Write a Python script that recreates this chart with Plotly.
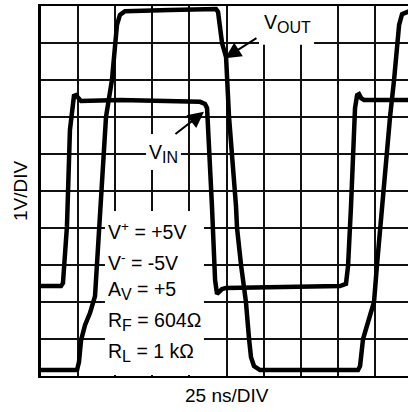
import plotly.graph_objects as go

# Scope capture: 25 ns/DIV horizontally, 1 V/DIV vertically
t_in_ns = [0, 13.5, 14.8, 16.2, 17.5, 19.5, 20.9, 22.2, 23.6, 24.9, 27.0, 53.2, 80.2,
           107.2, 110.5, 111.9, 115.2, 117.3, 118.6, 120.0, 122.0, 124.7, 161.1, 201.5,
           205.5, 206.9, 208.9, 210.3, 211.6, 213.0, 214.3, 215.7, 217.7, 250.0]
v_in = [-2.57, -2.57, -2.49, -1.86, -0.95, 1.65, 2.24, 2.57, 2.59, 2.51, 2.43, 2.46, 2.43,
        2.41, 2.35, 2.24, -0.41, -2.41, -2.78, -2.73, -2.65, -2.62, -2.59, -2.57,
        -2.51, -2.03, -0.41, 1.38, 2.24, 2.59, 2.62, 2.51, 2.46, 2.46]

t_out_ns = [0, 24.3, 25.6, 27.0, 29.7, 33.0, 36.4, 37.7, 39.8, 43.8, 47.8, 49.9, 51.2,
            53.2, 56.6, 86.9, 117.9, 119.3, 122.0, 124.7, 126.7, 131.4, 132.1, 134.8,
            138.1, 140.2, 141.5, 143.5, 147.6, 213.6, 215.0, 217.0, 219.7, 224.4, 226.4,
            228.5, 229.8, 235.2, 237.9, 239.9, 241.3, 243.3, 250.0]
v_out = [-4.84, -4.84, -4.62, -4.03, -3.62, -3.30, -2.84, -2.00, -0.41, 2.00, 3.00, 4.00, 4.49,
         4.76, 4.86, 4.89, 4.92, 4.84, 4.00, 3.62, 2.00, -0.41, -1.00, -2.00,
         -3.00, -4.00, -4.49, -4.73, -4.84, -4.84, -4.73, -4.00, -3.65, -3.00, -2.00,
         -1.00, -0.41, 2.00, 3.00, 4.00, 4.49, 4.78, 4.89]

SUB = "<sub><span style='font-size:16px'>{}</span></sub>"
conditions = ["V<sup>+</sup> = +5V", "V<sup>-</sup> = -5V", "A" + SUB.format("V") + " = +5",
              "R" + SUB.format("F") + " = 604Ω", "R" + SUB.format("L") + " = 1 kΩ"]
out_label = "V" + SUB.format("OUT")
in_label = "V" + SUB.format("IN")
x_title = "25 ns/DIV"
y_title = "1V/DIV"

FONT = "Liberation Sans, Arial, Helvetica, sans-serif"
INK = "black"
LABEL_SIZE = 19.5

fig = go.Figure()
fig.add_trace(go.Scatter(x=t_in_ns, y=v_in, mode="lines", name="V_IN",
                         line=dict(color=INK, width=4.5), hoverinfo="skip"))
fig.add_trace(go.Scatter(x=t_out_ns, y=v_out, mode="lines", name="V_OUT",
                         line=dict(color=INK, width=4.5), hoverinfo="skip"))

# white label boxes that knock out the graticule (drawn under the traces)
boxes = [(146.9, 184.0, 3.95, 5.0), (70.8, 94.3, 0.57, 1.54), (43.1, 109.8, -4.97, -0.54)]
for x0, x1, y0, y1 in boxes:
    fig.add_shape(type="rect", xref="x", yref="y", x0=x0, x1=x1, y0=y0, y1=y1,
                  fillcolor="white", line=dict(width=0), layer="between")

annotations = []
# condition block
cond_y = [-1.09, -1.91, -2.69, -3.53, -4.36]
for txt, yy in zip(conditions, cond_y):
    annotations.append(dict(x=44.0, y=yy, xref="x", yref="y", text=txt, showarrow=False,
                            xanchor="left", yanchor="middle",
                            font=dict(family=FONT, size=LABEL_SIZE, color=INK)))
# trace labels
annotations.append(dict(x=148.6, y=4.52, xref="x", yref="y", text=out_label,
                        showarrow=False, xanchor="left", yanchor="middle",
                        font=dict(family=FONT, size=LABEL_SIZE, color=INK)))
annotations.append(dict(x=71.5, y=1.02, xref="x", yref="y", text=in_label,
                        showarrow=False, xanchor="left", yanchor="middle",
                        font=dict(family=FONT, size=LABEL_SIZE, color=INK)))
# pointer arrows
for (xt, yt, xa, ya) in [(124.0, 3.59, 146.2, 4.16), (109.8, 2.14, 89.6, 1.51)]:
    annotations.append(dict(x=xt, y=yt, ax=xa, ay=ya, xref="x", yref="y", axref="x", ayref="y",
                            text="", showarrow=True, arrowhead=2, arrowsize=1.6,
                            arrowwidth=2, arrowcolor=INK, standoff=0))
# axis captions
annotations.append(dict(x=125, y=0, xref="x", yref="paper", text=x_title, showarrow=False,
                        xanchor="center", yanchor="middle", yshift=-19,
                        font=dict(family=FONT, size=19, color=INK)))
annotations.append(dict(x=0, y=0, xref="paper", yref="y", text=y_title, showarrow=False,
                        xanchor="center", yanchor="middle", xshift=-21, textangle=-90,
                        font=dict(family=FONT, size=19, color=INK)))

fig.update_layout(
    width=408, height=412,
    margin=dict(l=41, r=0, t=6, b=36),
    paper_bgcolor="white", plot_bgcolor="white",
    showlegend=False,
    annotations=annotations,
    xaxis=dict(range=[0, 247.3], tick0=0, dtick=25, showgrid=True, gridcolor="#111111",
               gridwidth=1.6, showticklabels=False, ticks="", zeroline=False,
               showline=True, linecolor=INK, linewidth=2, mirror=True, fixedrange=True),
    yaxis=dict(range=[-5, 5], tick0=-5, dtick=1, showgrid=True, gridcolor="#111111",
               gridwidth=1.6, showticklabels=False, ticks="", zeroline=False,
               showline=True, linecolor=INK, linewidth=2.5, mirror=False, fixedrange=True),
)

fig.write_html("out.html")
